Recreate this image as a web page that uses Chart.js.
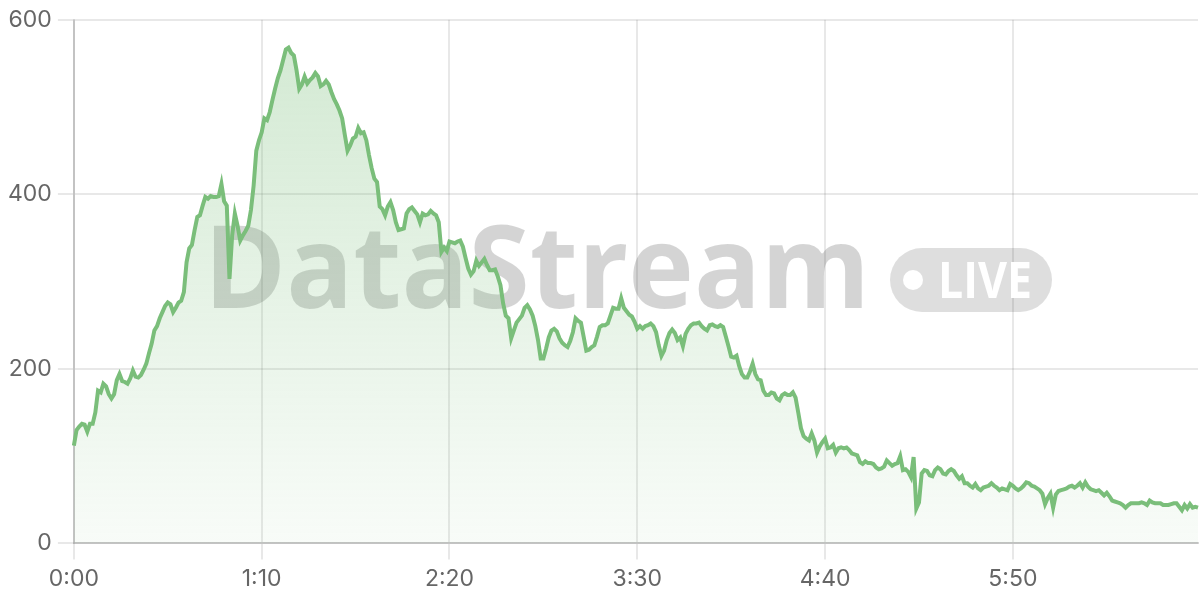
<!DOCTYPE html>
<html>
<head>
<meta charset="utf-8">
<title>DataStream viewers</title>
<script src="https://cdn.jsdelivr.net/npm/chart.js@4.4.1/dist/chart.umd.min.js"></script>
<style>
  html, body { margin: 0; padding: 0; background: #fff; }
  #wrap { width: 1200px; height: 600px; position: relative; }
</style>
</head>
<body>
<div id="wrap"><canvas id="viewersChart"></canvas></div>
<script>
// one sample per second, 0:00 .. 6:59
const SECONDS = 420;
const timeLabels = [];
for (let s = 0; s < SECONDS; s++) {
    timeLabels.push(Math.floor(s / 60) + ':' + String(s % 60).padStart(2, '0'));
}

// labels that are actually printed under the x axis
const shownTicks = ['0:00', '1:10', '2:20', '3:30', '4:40', '5:50'];
const yTicks = [0, 200, 400, 600];

// concurrent viewers
const viewers = [
    112, 130, 134, 137, 136, 128, 137, 137, 150, 175,
    173, 183, 180, 171, 166, 171, 187, 194, 186, 185,
    183, 189, 198, 191, 190, 193, 199, 206, 218, 229,
    244, 249, 258, 265, 272, 276, 274, 265, 270, 276,
    278, 288, 322, 338, 342, 359, 374, 376, 387, 397,
    395, 398, 397, 397, 398, 412, 392, 387, 303, 353,
    378, 364, 347, 353, 358, 364, 382, 410, 450, 462,
    471, 487, 485, 494, 508, 521, 533, 542, 554, 566,
    568, 562, 559, 542, 521, 526, 535, 527, 531, 534,
    539, 535, 524, 526, 530, 526, 517, 509, 503, 496,
    487, 468, 450, 456, 464, 466, 476, 470, 471, 462,
    445, 430, 418, 414, 386, 383, 376, 386, 391, 382,
    368, 359, 360, 361, 378, 383, 385, 381, 377, 368,
    378, 376, 377, 381, 378, 376, 368, 334, 339, 335,
    346, 345, 344, 346, 347, 340, 327, 315, 308, 312,
    324, 318, 322, 326, 319, 313, 313, 314, 306, 296,
    275, 261, 258, 235, 244, 253, 257, 261, 270, 273,
    268, 261, 249, 233, 212, 212, 223, 236, 244, 246,
    243, 235, 230, 227, 225, 232, 242, 258, 255, 253,
    237, 221, 222, 225, 227, 237, 248, 250, 250, 252,
    261, 270, 269, 269, 281, 270, 266, 262, 260, 254,
    246, 249, 246, 249, 250, 252, 249, 242, 227, 215,
    221, 233, 241, 245, 241, 233, 236, 226, 240, 246,
    250, 252, 252, 253, 249, 246, 244, 250, 251, 249,
    248, 250, 248, 237, 226, 214, 213, 215, 203, 194,
    190, 190, 197, 206, 194, 188, 187, 175, 170, 170,
    173, 172, 166, 164, 170, 172, 170, 170, 173, 167,
    150, 132, 123, 120, 118, 126, 118, 104, 111, 116,
    120, 109, 110, 113, 104, 109, 110, 109, 110, 107,
    103, 102, 101, 93, 91, 94, 92, 92, 91, 87,
    85, 86, 88, 95, 92, 89, 91, 92, 100, 84,
    85, 82, 76, 99, 40, 47, 80, 84, 83, 78,
    77, 84, 87, 85, 80, 79, 83, 85, 83, 78,
    74, 77, 69, 69, 66, 64, 68, 63, 61, 64,
    65, 66, 69, 66, 64, 61, 63, 62, 61, 68,
    66, 63, 61, 63, 66, 70, 69, 66, 65, 63,
    61, 57, 45, 52, 57, 41, 56, 60, 61, 62,
    63, 65, 66, 64, 66, 69, 64, 70, 65, 62,
    61, 60, 61, 58, 55, 58, 54, 49, 48, 47,
    46, 44, 41, 44, 46, 46, 46, 46, 47, 46,
    44, 49, 47, 46, 46, 46, 44, 44, 44, 45,
    46, 46, 42, 38, 44, 40, 45, 41, 42, 41
];

const GREEN = 'rgb(122, 190, 122)';
const GRID = 'rgba(0, 0, 0, 0.09)';

// faint brand mark behind the line
const watermark = {
    id: 'watermark',
    beforeDatasetsDraw(chart) {
        const ctx = chart.ctx;
        ctx.save();
        ctx.textBaseline = 'alphabetic';
        ctx.fillStyle = 'rgba(0, 0, 0, 0.17)';
        ctx.font = 'bold 114px "Open Sans"';
        const w = ctx.measureText('DataStream').width;
        ctx.translate(204, 308);
        ctx.scale(666 / w, 1);
        ctx.fillText('DataStream', 0, 0);
        ctx.restore();

        ctx.save();
        ctx.fillStyle = 'rgba(0, 0, 0, 0.13)';
        ctx.beginPath();
        ctx.roundRect(890, 248, 162, 64, 32);
        ctx.fill();
        ctx.fillStyle = '#fff';
        ctx.beginPath();
        ctx.arc(913, 280, 10, 0, Math.PI * 2);
        ctx.fill();
        ctx.font = 'bold 50px "Open Sans"';
        const lw = ctx.measureText('LIVE').width;
        ctx.translate(938, 298);
        ctx.scale(94 / lw, 1);
        ctx.fillText('LIVE', 0, 0);
        ctx.restore();
    }
};

Chart.defaults.font.family = 'Inter, "Noto Sans", sans-serif';
Chart.defaults.font.size = 23;
Chart.defaults.color = '#666';

const ctx = document.getElementById('viewersChart').getContext('2d');
new Chart(ctx, {
    type: 'line',
    data: {
        labels: timeLabels,
        datasets: [{
            label: 'Viewers',
            data: viewers,
            borderColor: GREEN,
            borderWidth: 4,
            pointRadius: 0,
            tension: 0,
            fill: 'origin',
            backgroundColor: function(context) {
                const area = context.chart.chartArea;
                if (!area) return 'rgba(122, 190, 122, 0.15)';
                const g = context.chart.ctx.createLinearGradient(0, area.top, 0, area.bottom);
                g.addColorStop(0, 'rgba(122, 190, 122, 0.34)');
                g.addColorStop(1, 'rgba(122, 190, 122, 0.05)');
                return g;
            }
        }]
    },
    options: {
        responsive: true,
        maintainAspectRatio: false,
        devicePixelRatio: 1,
        animation: false,
        layout: { padding: { left: 2, right: 2, bottom: 1 } },
        plugins: {
            legend: { display: false },
            tooltip: { enabled: false }
        },
        scales: {
            x: {
                grid: { color: GRID, lineWidth: 2, tickLength: 16 },
                border: { color: 'rgba(0, 0, 0, 0.16)', width: 2 },
                ticks: {
                    autoSkip: false,
                    maxRotation: 0,
                    padding: 6,
                    callback: function(value, index) {
                        const label = timeLabels[index];
                        return shownTicks.includes(label) ? label : null;
                    }
                }
            },
            y: {
                min: yTicks[0],
                max: yTicks[yTicks.length - 1],
                grid: { color: GRID, lineWidth: 2, tickLength: 16 },
                border: { color: 'rgba(0, 0, 0, 0.16)', width: 2 },
                ticks: { padding: 6 },
                afterBuildTicks: function(axis) {
                    axis.ticks = yTicks.map(v => ({ value: v }));
                }
            }
        }
    },
    plugins: [watermark]
});
</script>
</body>
</html>
